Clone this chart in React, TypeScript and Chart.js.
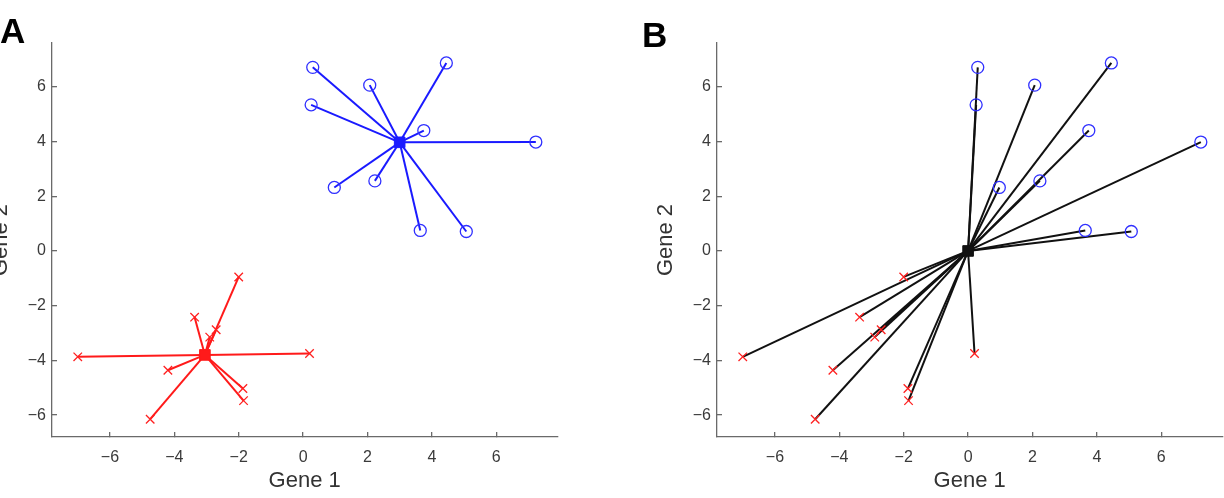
import React, { useEffect, useRef } from 'react';
import { Chart, registerables } from 'chart.js';

Chart.register(...registerables);

// ---- data ----
const blueX = [0.3, 2.07, 4.45, 0.25, 3.75, 7.23, 0.97, 2.23, 3.64, 5.07];
const blueY = [6.71, 6.06, 6.87, 5.34, 4.4, 3.98, 2.32, 2.56, 0.75, 0.71];
const redX = [-2.0, -3.37, -2.7, -2.9, -7.0, 0.2, -4.2, -1.87, -1.85, -4.75];
const redY = [-0.95, -2.42, -2.88, -3.15, -3.87, -3.75, -4.36, -5.03, -5.47, -6.15];
const blueCentroid = [3.0, 3.97];
const redCentroid = [-3.05, -3.8];
const origin = [0, 0];
const xTicks = [-6, -4, -2, 0, 2, 4, 6];
const yTicks = [-6, -4, -2, 0, 2, 4, 6];
const xRange = [-7.8, 7.9];
const yRange = [-6.8, 7.6];
const panelLabels = ['A', 'B'];
const xTitle = 'Gene 1';
const yTitle = 'Gene 2';

const FONT = '"Liberation Sans", Arial, Helvetica, sans-serif';
const BLUE = '#1a1aff';
const RED = '#ff1a1a';
const BLACK = '#111111';
const AXIS = '#6a6a6a';

function fmt(v: number) {
  return v < 0 ? '\u2212' + Math.abs(v) : String(v);
}

function spokes(cx: number, cy: number, xs: number[], ys: number[], color: string) {
  return xs.map((x, i) => ({
    type: 'scatter' as const,
    data: [{ x: cx, y: cy }, { x, y: ys[i] }],
    showLine: true,
    borderColor: color,
    borderWidth: 2,
    pointRadius: 0,
    order: 3,
  }));
}

function markers() {
  return [
    {
      type: 'scatter' as const,
      data: blueX.map((x, i) => ({ x, y: blueY[i] })),
      pointStyle: 'circle',
      pointRadius: 6,
      pointBorderWidth: 1.3,
      pointBorderColor: '#3030ff',
      pointBackgroundColor: 'rgba(0,0,0,0)',
      order: 2,
    },
    {
      type: 'scatter' as const,
      data: redX.map((x, i) => ({ x, y: redY[i] })),
      pointStyle: 'crossRot',
      pointRadius: 6,
      pointBorderWidth: 1.3,
      pointBorderColor: '#ff2020',
      order: 2,
    },
  ];
}

function centroid(c: number[], color: string) {
  return {
    type: 'scatter' as const,
    data: [{ x: c[0], y: c[1] }],
    pointStyle: 'rect',
    pointRadius: 7.5,
    pointBorderWidth: 1,
    pointBorderColor: color,
    pointBackgroundColor: color,
    order: 1,
  };
}

function datasetsFor(panel: number) {
  if (panel === 0) {
    return [
      ...spokes(blueCentroid[0], blueCentroid[1], blueX, blueY, BLUE),
      ...spokes(redCentroid[0], redCentroid[1], redX, redY, RED),
      ...markers(),
      centroid(blueCentroid, BLUE),
      centroid(redCentroid, RED),
    ];
  }
  return [
    ...spokes(origin[0], origin[1], blueX, blueY, BLACK),
    ...spokes(origin[0], origin[1], redX, redY, BLACK),
    ...markers(),
    centroid(origin, BLACK),
  ];
}

function axisCommon() {
  return {
    border: { display: true, color: AXIS, width: 1.3 },
    grid: { drawOnChartArea: false, drawTicks: true, tickLength: -5, color: AXIS, lineWidth: 1.3 },
  };
}

function Panel({ index, left }: { index: number; left: number }) {
  const ref = useRef<HTMLCanvasElement | null>(null);
  useEffect(() => {
    if (!ref.current) return;
    const chart = new Chart(ref.current, {
      type: 'scatter',
      data: { datasets: datasetsFor(index) as any },
      options: {
        animation: false,
        responsive: false,
        devicePixelRatio: 1,
        events: [],
        plugins: { legend: { display: false }, tooltip: { enabled: false } },
        layout: { padding: { top: 43, right: 22.6, left: 0, bottom: 0 } },
        scales: {
          x: {
            type: 'linear',
            min: xRange[0],
            max: xRange[1],
            afterBuildTicks: (s: any) => {
              s.ticks = xTicks.map((v) => ({ value: v }));
            },
            afterFit: (s: any) => {
              s.height = 61;
            },
            ...axisCommon(),
            ticks: {
              padding: 16,
              color: '#3a3a3a',
              font: { family: FONT, size: 16 },
              callback: (v: any) => fmt(Number(v)),
            },
            title: {
              display: true,
              text: xTitle,
              color: '#333',
              font: { family: FONT, size: 22 },
              padding: { top: 0, bottom: 4 },
            },
          },
          y: {
            type: 'linear',
            min: yRange[0],
            max: yRange[1],
            afterBuildTicks: (s: any) => {
              s.ticks = yTicks.map((v) => ({ value: v }));
            },
            afterFit: (s: any) => {
              s.width = 72;
            },
            ...axisCommon(),
            ticks: {
              padding: 11,
              color: '#3a3a3a',
              font: { family: FONT, size: 16 },
              callback: (v: any) => fmt(Number(v)),
            },
            title: {
              display: true,
              text: yTitle,
              color: '#333',
              font: { family: FONT, size: 22 },
              padding: { top: 8, bottom: 0 },
            },
          },
        },
      } as any,
    });
    return () => chart.destroy();
  }, [index]);
  return (
    <canvas
      ref={ref}
      width={600}
      height={498}
      style={{ position: 'absolute', left, top: 0, width: 600, height: 498 }}
    />
  );
}

export default function App() {
  return (
    <div
      style={{
        position: 'fixed',
        left: 0,
        top: 0,
        width: 1224,
        height: 498,
        overflow: 'hidden',
        background: '#fff',
      }}
    >
      <Panel index={0} left={-20} />
      <Panel index={1} left={645} />
      <div
        style={{
          position: 'absolute',
          left: 0,
          top: 13,
          font: `bold 35px ${FONT}`,
          lineHeight: '35px',
          color: '#000',
        }}
      >
        {panelLabels[0]}
      </div>
      <div
        style={{
          position: 'absolute',
          left: 642,
          top: 17,
          font: `bold 35px ${FONT}`,
          lineHeight: '35px',
          color: '#000',
        }}
      >
        {panelLabels[1]}
      </div>
    </div>
  );
}
